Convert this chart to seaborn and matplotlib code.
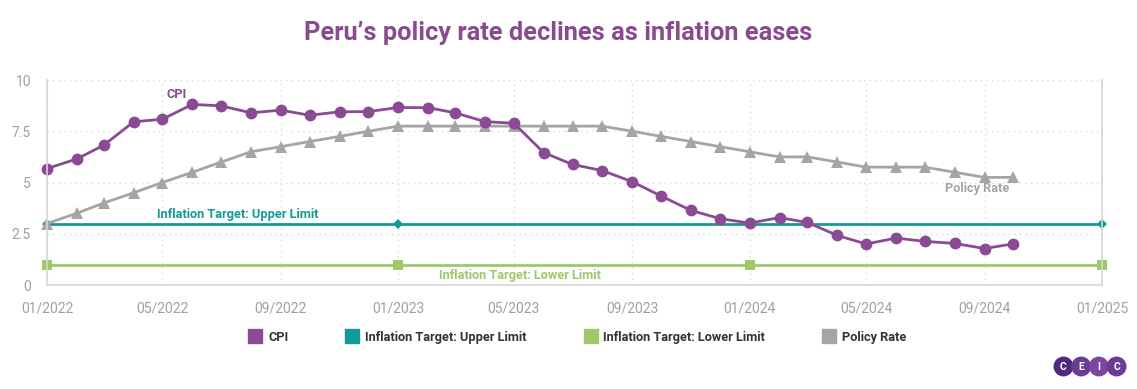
import pandas as pd
import seaborn as sns
import matplotlib.pyplot as plt
import matplotlib.dates as mdates
from matplotlib.patches import Ellipse
from matplotlib.lines import Line2D


months = pd.date_range("2022-01-01", "2024-10-01", freq="MS")

cpi = [5.68, 6.15, 6.82, 7.96, 8.09, 8.81, 8.74, 8.40, 8.53, 8.28, 8.45, 8.46,
       8.66, 8.65, 8.40, 7.97, 7.89, 6.46, 5.88, 5.58, 5.04, 4.34, 3.64, 3.24,
       3.02, 3.29, 3.05, 2.42, 2.00, 2.29, 2.13, 2.03, 1.78, 2.01]
policy_rate = [3.0, 3.5, 4.0, 4.5, 5.0, 5.5, 6.0, 6.5, 6.75, 7.0, 7.25, 7.5,
               7.75, 7.75, 7.75, 7.75, 7.75, 7.75, 7.75, 7.75, 7.5, 7.25, 7.0, 6.75,
               6.5, 6.25, 6.25, 6.0, 5.75, 5.75, 5.75, 5.5, 5.25, 5.25]

target_dates = pd.to_datetime(["2022-01-01", "2023-01-01", "2024-01-01", "2025-01-01"])
upper_limit = [3, 3, 3, 3]
lower_limit = [1, 1, 1, 1]

series_names = ["CPI", "Inflation Target: Upper Limit", "Inflation Target: Lower Limit", "Policy Rate"]
colors = ["#8a4a94", "#139a98", "#9dc96a", "#a5a5a5"]

df_cpi = pd.DataFrame({"date": months, "value": cpi})
df_rate = pd.DataFrame({"date": months, "value": policy_rate})
df_up = pd.DataFrame({"date": target_dates, "value": upper_limit})
df_low = pd.DataFrame({"date": target_dates, "value": lower_limit})

sns.set_style("white")
plt.rcParams["font.family"] = ["Roboto", "DejaVu Sans"]

fig = plt.figure(figsize=(11.37, 3.89), dpi=100)
ax = fig.add_axes([0.0413, 0.2673, 0.9279, 0.527])

sns.lineplot(data=df_low, x="date", y="value", ax=ax, color=colors[2], lw=2,
             marker="s", markersize=7, markeredgewidth=0, clip_on=False)
sns.lineplot(data=df_up, x="date", y="value", ax=ax, color=colors[1], lw=2,
             marker="D", markersize=5, markeredgewidth=0, clip_on=False)
sns.lineplot(data=df_rate, x="date", y="value", ax=ax, color=colors[3], lw=2,
             marker="^", markersize=8, markeredgewidth=0, clip_on=False)
sns.lineplot(data=df_cpi, x="date", y="value", ax=ax, color=colors[0], lw=2,
             marker="o", markersize=8.5, markeredgewidth=0, clip_on=False)

ax.set_xlim(pd.Timestamp("2022-01-01"), pd.Timestamp("2025-01-01"))
ax.set_ylim(0, 10)
ax.set_yticks([0, 2.5, 5, 7.5, 10])
ax.set_yticklabels(["0", "2.5", "5", "7.5", "10"])
ax.xaxis.set_major_locator(mdates.MonthLocator(bymonth=[1, 5, 9]))
ax.xaxis.set_major_formatter(mdates.DateFormatter("%m/%Y"))
ax.set_xlabel("")
ax.set_ylabel("")

ax.grid(True, color="#d9d9d9", linestyle=(0, (1, 3)), lw=1)
ax.spines["top"].set_visible(False)
for side in ["left", "right", "bottom"]:
    ax.spines[side].set_color("#d6d6d6")
    ax.spines[side].set_linewidth(1.2)
ax.tick_params(axis="both", colors="#d6d6d6", labelcolor="#a0a0a0", labelsize=10,
               length=8, width=1.2)
ax.tick_params(axis="x", pad=4)

lab = dict(fontsize=9.2, fontweight="bold", ha="center", va="center")
ax.text(pd.Timestamp("2022-05-16"), 9.27, "CPI", color=colors[0], **lab)
ax.text(pd.Timestamp("2022-07-18"), 3.45, "Inflation Target: Upper Limit", color=colors[1], **lab)
ax.text(pd.Timestamp("2023-05-07"), 0.45, "Inflation Target: Lower Limit", color=colors[2], **lab)
ax.text(pd.Timestamp("2024-08-24"), 4.73, "Policy Rate", color=colors[3], **lab)

fig.text(0.491, 0.914, "Peru\u2019s policy rate declines as inflation eases", color="#8a4a8f",
         fontsize=18.3, fontweight="bold", ha="center", va="center")

handles = [Line2D([], [], marker="s", linestyle="none", markersize=10.5, color=c) for c in colors]
fig.legend(handles, series_names, loc="center", bbox_to_anchor=(0.508, 0.133), ncol=4,
           frameon=False, columnspacing=4.5, handletextpad=0.5, handlelength=1.0,
           labelcolor="#333333", prop={"weight": "bold", "size": 9.2})

# CEIC logo
logo_cols = ["#4f2a7c", "#6b3c95", "#7d479f", "#6a3b93"]
for i, letter in enumerate("CEIC"):
    cx = (1063.5 + i * 17.7) / 1137
    cy = 1 - 366.5 / 389
    fig.patches.append(Ellipse((cx, cy), 18.5 / 1137, 18.5 / 389, color=logo_cols[i],
                               transform=fig.transFigure))
    fig.text(cx, cy, letter, color="white", fontsize=7.5, fontweight="bold",
             ha="center", va="center")

fig.savefig("out.png", dpi=100)
